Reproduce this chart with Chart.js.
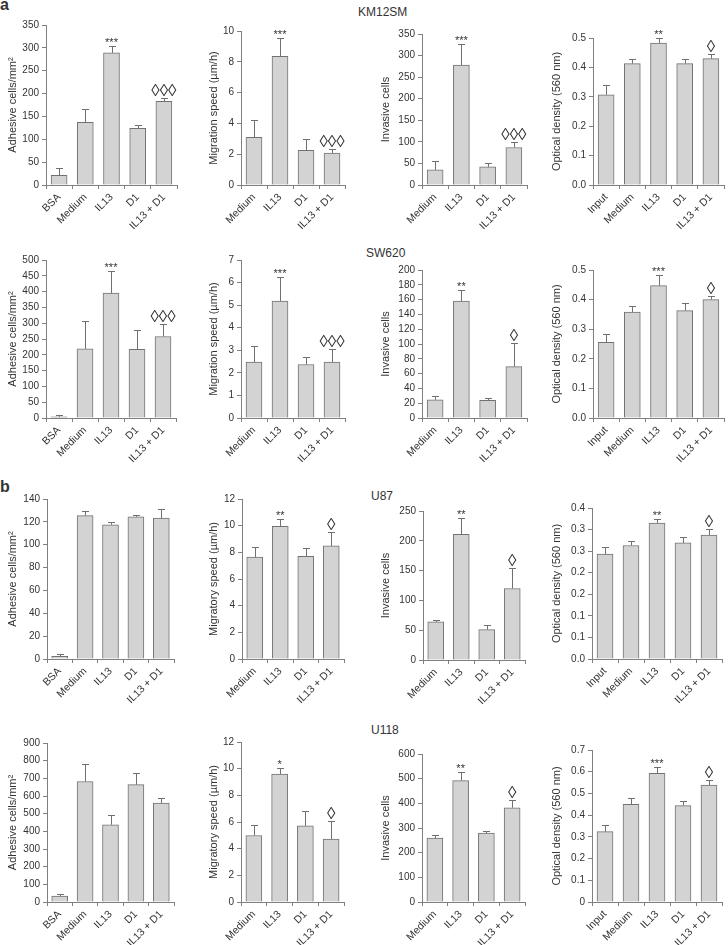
<!DOCTYPE html>
<html>
<head>
<meta charset="utf-8">
<title>IL13 / D1 assays</title>
<script src="https://cdn.jsdelivr.net/npm/chart.js@4.4.1/dist/chart.umd.min.js"></script>
<style>
  html, body { margin: 0; padding: 0; background: #fff; }
  body { width: 728px; height: 945px; position: relative; overflow: hidden;
         font-family: 'Liberation Sans', Arial, Helvetica, sans-serif; color: #333; }
  canvas { position: absolute; }
  .letter { position: absolute; left: 0; font-weight: bold; font-size: 16px; line-height: 16px; }
  .cell { position: absolute; font-size: 12px; line-height: 12px; }
</style>
</head>
<body>
<div class="letter" style="top:-3px">a</div>
<div class="letter" style="top:479px">b</div>
<div class="cell" style="left:358px;top:6px">KM12SM</div>
<div class="cell" style="left:366px;top:247px">SW620</div>
<div class="cell" style="left:371px;top:490px">U87</div>
<div class="cell" style="left:371px;top:724px">U118</div>
<script>
// categories
const catsBsa = ['BSA', 'Medium', 'IL13', 'D1', 'IL13 + D1'];
const catsMedium = ['Medium', 'IL13', 'D1', 'IL13 + D1'];
const catsInput = ['Input', 'Medium', 'IL13', 'D1', 'IL13 + D1'];

// KM12SM
const kmAdhesion = [21, 137, 289, 124, 183];
const kmAdhesionErr = [17, 30, 14, 7, 8];
const kmAdhesionSig = ['', '', '***', '', '◊◊◊'];
const kmAdhesionTicks = ['0', '50', '100', '150', '200', '250', '300', '350'];

const kmMigration = [3.1, 8.35, 2.25, 2.07];
const kmMigrationErr = [1.1, 1.2, 0.72, 0.27];
const kmMigrationSig = ['', '***', '', '◊◊◊'];
const kmMigrationTicks = ['0', '2', '4', '6', '8', '10'];

const kmInvasion = [35, 278, 42, 87];
const kmInvasionErr = [20, 48, 10, 12];
const kmInvasionSig = ['', '***', '', '◊◊◊'];
const kmInvasionTicks = ['0', '50', '100', '150', '200', '250', '300', '350'];

const kmDensity = [0.307, 0.413, 0.483, 0.413, 0.43];
const kmDensityErr = [0.034, 0.015, 0.016, 0.015, 0.016];
const kmDensitySig = ['', '', '**', '', '◊'];
const kmDensityTicks = ['0.0', '0.1', '0.2', '0.3', '0.4', '0.5'];

// SW620
const swAdhesion = [4, 219, 395, 217, 258];
const swAdhesionErr = [5, 88, 70, 60, 39];
const swAdhesionSig = ['', '', '***', '', '◊◊◊'];
const swAdhesionTicks = ['0', '50', '100', '150', '200', '250', '300', '350', '400', '450', '500'];

const swMigration = [2.48, 5.18, 2.37, 2.48];
const swMigrationErr = [0.7, 1.05, 0.33, 0.57];
const swMigrationSig = ['', '***', '', '◊◊◊'];
const swMigrationTicks = ['0', '1', '2', '3', '4', '5', '6', '7'];

const swInvasion = [24.5, 158, 23.8, 69.5];
const swInvasionErr = [5.5, 14.5, 2.7, 31.5];
const swInvasionSig = ['', '**', '', '◊'];
const swInvasionTicks = ['0', '20', '40', '60', '80', '100', '120', '140', '160', '180', '200'];

const swDensity = [0.256, 0.358, 0.447, 0.363, 0.40];
const swDensityErr = [0.027, 0.022, 0.035, 0.027, 0.013];
const swDensitySig = ['', '', '***', '', '◊'];
const swDensityTicks = ['0.0', '0.1', '0.2', '0.3', '0.4', '0.5'];

// U87
const u87Adhesion = [2.3, 125.5, 117.5, 124.3, 123.2];
const u87AdhesionErr = [1.8, 4, 2, 2, 8];
const u87AdhesionSig = ['', '', '', '', ''];
const u87AdhesionTicks = ['0', '20', '40', '60', '80', '100', '120', '140'];

const u87Migration = [7.65, 9.95, 7.7, 8.48];
const u87MigrationErr = [0.75, 0.58, 0.65, 1.02];
const u87MigrationSig = ['', '**', '', '◊'];
const u87MigrationTicks = ['0', '2', '4', '6', '8', '10', '12'];

const u87Invasion = [64, 211, 51, 120];
const u87InvasionErr = [3.5, 27, 7.5, 35];
const u87InvasionSig = ['', '**', '', '◊'];
const u87InvasionTicks = ['0', '50', '100', '150', '200', '250'];

const u87Density = [0.243, 0.263, 0.315, 0.269, 0.287];
const u87DensityErr = [0.016, 0.01, 0.01, 0.013, 0.015];
const u87DensitySig = ['', '', '**', '', '◊'];
const u87DensityTicks = ['0.0', '0.1', '0.1', '0.2', '0.2', '0.3', '0.3', '0.4'];

// U118
const u118Adhesion = [34, 682, 437, 664, 560];
const u118AdhesionErr = [9, 97, 56, 69, 30];
const u118AdhesionSig = ['', '', '', '', ''];
const u118AdhesionTicks = ['0', '100', '200', '300', '400', '500', '600', '700', '800', '900'];

const u118Migration = [4.99, 9.6, 5.71, 4.71];
const u118MigrationErr = [0.82, 0.45, 1.13, 1.33];
const u118MigrationSig = ['', '*', '', '◊'];
const u118MigrationTicks = ['0', '2', '4', '6', '8', '10', '12'];

const u118Invasion = [259, 492, 279, 382];
const u118InvasionErr = [13, 35, 8, 31];
const u118InvasionSig = ['', '**', '', '◊'];
const u118InvasionTicks = ['0', '100', '200', '300', '400', '500', '600'];

const u118Density = [0.324, 0.45, 0.593, 0.444, 0.538];
const u118DensityErr = [0.032, 0.028, 0.027, 0.023, 0.022];
const u118DensitySig = ['', '', '***', '', '◊'];
const u118DensityTicks = ['0', '0.1', '0.2', '0.3', '0.4', '0.5', '0.6', '0.7'];

const ADH = 'Adhesive cells/mm²';
const INV = 'Invasive cells';
const OD = 'Optical density (560 nm)';

const panels = [
  { cats: catsBsa, values: kmAdhesion, err: kmAdhesionErr, sig: kmAdhesionSig, ticks: kmAdhesionTicks, max: 350, step: 50, title: ADH },
  { cats: catsMedium, values: kmMigration, err: kmMigrationErr, sig: kmMigrationSig, ticks: kmMigrationTicks, max: 10, step: 2, title: 'Migration speed (µm/h)' },
  { cats: catsMedium, values: kmInvasion, err: kmInvasionErr, sig: kmInvasionSig, ticks: kmInvasionTicks, max: 350, step: 50, title: INV },
  { cats: catsInput, values: kmDensity, err: kmDensityErr, sig: kmDensitySig, ticks: kmDensityTicks, max: 0.5, step: 0.1, title: OD },

  { cats: catsBsa, values: swAdhesion, err: swAdhesionErr, sig: swAdhesionSig, ticks: swAdhesionTicks, max: 500, step: 50, title: ADH },
  { cats: catsMedium, values: swMigration, err: swMigrationErr, sig: swMigrationSig, ticks: swMigrationTicks, max: 7, step: 1, title: 'Migration speed (µm/h)' },
  { cats: catsMedium, values: swInvasion, err: swInvasionErr, sig: swInvasionSig, ticks: swInvasionTicks, max: 200, step: 20, title: INV },
  { cats: catsInput, values: swDensity, err: swDensityErr, sig: swDensitySig, ticks: swDensityTicks, max: 0.5, step: 0.1, title: OD },

  { cats: catsBsa, values: u87Adhesion, err: u87AdhesionErr, sig: u87AdhesionSig, ticks: u87AdhesionTicks, max: 140, step: 20, title: ADH },
  { cats: catsMedium, values: u87Migration, err: u87MigrationErr, sig: u87MigrationSig, ticks: u87MigrationTicks, max: 12, step: 2, title: 'Migratory speed (µm/h)' },
  { cats: catsMedium, values: u87Invasion, err: u87InvasionErr, sig: u87InvasionSig, ticks: u87InvasionTicks, max: 250, step: 50, title: INV },
  { cats: catsInput, values: u87Density, err: u87DensityErr, sig: u87DensitySig, ticks: u87DensityTicks, max: 0.35, step: 0.05, title: OD },

  { cats: catsBsa, values: u118Adhesion, err: u118AdhesionErr, sig: u118AdhesionSig, ticks: u118AdhesionTicks, max: 900, step: 100, title: ADH },
  { cats: catsMedium, values: u118Migration, err: u118MigrationErr, sig: u118MigrationSig, ticks: u118MigrationTicks, max: 12, step: 2, title: 'Migratory speed (µm/h)' },
  { cats: catsMedium, values: u118Invasion, err: u118InvasionErr, sig: u118InvasionSig, ticks: u118InvasionTicks, max: 600, step: 100, title: INV },
  { cats: catsInput, values: u118Density, err: u118DensityErr, sig: u118DensitySig, ticks: u118DensityTicks, max: 0.7, step: 0.1, title: OD }
];

// page layout: [y axis x, right end, top of scale, zero line] for each panel
const frames = [
  [46, 177, 25, 185], [241, 345, 31, 185], [422, 527, 34, 185], [593, 724, 38, 185],
  [46, 176, 260, 418], [241, 345, 260, 418], [422, 527, 270, 418], [593, 724, 270, 418],
  [47, 174, 499, 659], [242, 344, 499, 659], [423, 525, 511, 660], [592, 722, 508, 659],
  [47, 174, 743, 902], [241, 344, 742, 902], [422, 525, 754, 902], [592, 722, 750, 902]
];
const titleCenters = [12, 213, 385, 556];

const FONT = "'Liberation Sans', Arial, Helvetica, sans-serif";
const TEXT = '#333';
const AXIS = '#808080';
const PAD_TOP = 16, PAD_RIGHT = 3, X_AXIS_H = 52;

// whiskers (upper error only) and significance marks
const errorBars = {
  id: 'errorBars',
  afterDatasetsDraw(chart, args, opts) {
    const ctx = chart.ctx;
    const y = chart.scales.y;
    const values = chart.data.datasets[0].data;
    ctx.save();
    ctx.strokeStyle = '#707070';
    ctx.lineWidth = 1;
    chart.getDatasetMeta(0).data.forEach((bar, i) => {
      const x = Math.round(bar.x) + 0.5;
      const yTop = Math.round(y.getPixelForValue(values[i] + opts.errors[i])) + 0.5;
      ctx.beginPath();
      ctx.moveTo(x, bar.y);
      ctx.lineTo(x, yTop);
      ctx.moveTo(x - 3.5, yTop);
      ctx.lineTo(x + 3.5, yTop);
      ctx.stroke();

      const mark = opts.marks[i];
      if (!mark) return;
      ctx.fillStyle = TEXT;
      ctx.textAlign = 'center';
      ctx.textBaseline = 'alphabetic';
      if (mark.includes('◊')) {
        ctx.font = '17px ' + FONT;
        ctx.fillText(mark, bar.x, yTop - 3);
      } else {
        ctx.font = '11px ' + FONT;
        ctx.fillText(mark, bar.x, yTop - 1);
      }
    });
    ctx.restore();
  }
};

panels.forEach((p, k) => {
  const [axisX, right, top, zero] = frames[k];
  const left = Math.round(titleCenters[k % 4] - 6.5);
  const cTop = top - PAD_TOP;
  const w = Math.round(right + PAD_RIGHT - left);
  const h = Math.round(zero + X_AXIS_H - cTop);
  const yWidth = axisX - left;

  const canvas = document.createElement('canvas');
  canvas.width = w;
  canvas.height = h;
  canvas.style.left = left + 'px';
  canvas.style.top = cTop + 'px';
  canvas.style.width = w + 'px';
  canvas.style.height = h + 'px';
  document.body.appendChild(canvas);

  new Chart(canvas, {
    type: 'bar',
    data: {
      labels: p.cats,
      datasets: [{
        data: p.values,
        backgroundColor: '#d3d3d3',
        borderColor: '#727272',
        borderWidth: 1,
        barThickness: 16
      }]
    },
    options: {
      responsive: false,
      animation: false,
      devicePixelRatio: 1,
      layout: { padding: { top: PAD_TOP, right: PAD_RIGHT, left: 0, bottom: 0 } },
      plugins: {
        legend: { display: false },
        tooltip: { enabled: false },
        errorBars: { errors: p.err, marks: p.sig }
      },
      scales: {
        x: {
          offset: true,
          grid: { offset: true, drawOnChartArea: false, drawTicks: true, tickLength: 4, color: AXIS },
          border: { display: true, color: AXIS },
          ticks: {
            color: TEXT, font: { family: FONT, size: 10.5 },
            minRotation: 45, maxRotation: 45, autoSkip: false, padding: 2
          },
          afterFit: s => { s.height = X_AXIS_H; s.paddingLeft = 0; s.paddingRight = 0; }
        },
        y: {
          min: 0,
          max: p.max,
          grid: { drawOnChartArea: false, drawTicks: true, tickLength: 4, color: AXIS },
          border: { display: true, color: AXIS },
          ticks: {
            stepSize: p.step, autoSkip: false, padding: 3,
            color: TEXT, font: { family: FONT, size: 10 },
            callback: (v, i) => p.ticks[i]
          },
          title: { display: true, text: p.title, color: TEXT, font: { family: FONT, size: 11 }, padding: 0 },
          afterFit: s => { s.width = yWidth; s.paddingTop = 0; s.paddingBottom = 0; }
        }
      }
    },
    plugins: [errorBars]
  });
});
</script>
</body>
</html>
